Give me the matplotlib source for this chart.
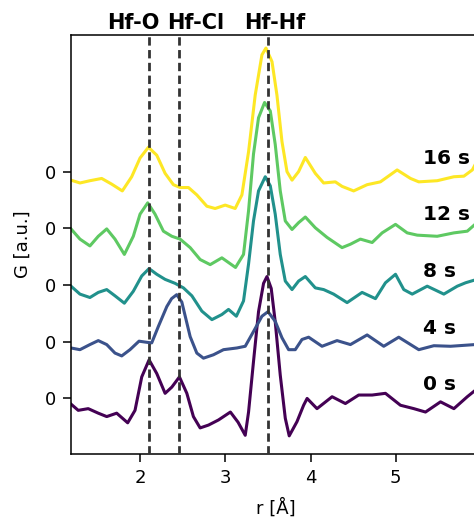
import matplotlib.pyplot as plt

# PDF curves, r in Angstrom, G without the vertical offset
r_0s = [1.19, 1.275, 1.392, 1.51, 1.609, 1.726, 1.855, 1.941, 2.02, 2.106, 2.196, 2.294, 2.373,
        2.462, 2.549, 2.626, 2.705, 2.803, 2.92, 3.06, 3.15, 3.234, 3.273, 3.331, 3.39, 3.449,
        3.489, 3.539, 3.586, 3.645, 3.704, 3.75, 3.841, 3.919, 3.96, 4.076, 4.253, 4.409, 4.565,
        4.723, 4.879, 5.055, 5.212, 5.349, 5.525, 5.682, 5.839, 5.93]
g_0s = [-0.10, -0.21, -0.18, -0.26, -0.32, -0.26, -0.43, -0.21, 0.38, 0.68, 0.44, 0.09, 0.20,
        0.38, 0.09, -0.32, -0.52, -0.47, -0.38, -0.24, -0.42, -0.65, -0.24, 0.65, 1.53, 2.03,
        2.15, 1.94, 1.35, 0.41, -0.35, -0.66, -0.41, -0.12, 0.0, -0.18, 0.03, -0.09, 0.06,
        0.06, 0.09, -0.12, -0.18, -0.24, -0.06, -0.18, 0.03, 0.14]

r_4s = [1.19, 1.295, 1.412, 1.51, 1.609, 1.706, 1.785, 1.882, 1.988, 2.079, 2.137, 2.215, 2.314,
        2.37, 2.43, 2.49, 2.588, 2.666, 2.744, 2.861, 2.979, 3.136, 3.234, 3.331, 3.43, 3.501,
        3.586, 3.665, 3.743, 3.821, 3.9, 3.978, 4.135, 4.311, 4.468, 4.664, 4.859, 5.035, 5.27,
        5.447, 5.643, 5.93]
g_4s = [-0.11, -0.14, -0.05, 0.02, -0.05, -0.20, -0.25, -0.14, 0.01, -0.01, -0.02, 0.27, 0.62,
        0.76, 0.83, 0.70, 0.09, -0.20, -0.29, -0.23, -0.14, -0.11, -0.08, 0.18, 0.45, 0.53,
        0.36, 0.07, -0.14, -0.14, 0.04, 0.08, -0.08, 0.02, -0.05, 0.12, -0.08, 0.08, -0.14,
        -0.07, -0.08, -0.05]

r_8s = [1.19, 1.295, 1.412, 1.51, 1.609, 1.706, 1.816, 1.921, 2.02, 2.106, 2.196, 2.294, 2.411,
        2.509, 2.608, 2.725, 2.843, 2.96, 3.038, 3.13, 3.214, 3.273, 3.331, 3.39, 3.469, 3.528,
        3.586, 3.645, 3.704, 3.783, 3.86, 3.939, 4.056, 4.154, 4.271, 4.429, 4.605, 4.762, 4.879,
        4.997, 5.094, 5.193, 5.369, 5.564, 5.722, 5.819, 5.93]
g_8s = [-0.02, -0.16, -0.22, -0.13, -0.08, -0.19, -0.32, -0.11, 0.16, 0.29, 0.19, 0.10, 0.03,
        -0.05, -0.19, -0.46, -0.61, -0.52, -0.43, -0.55, -0.28, 0.37, 1.13, 1.66, 1.91, 1.75,
        1.25, 0.54, 0.07, -0.08, 0.07, 0.15, -0.05, -0.08, -0.16, -0.31, -0.13, -0.24, 0.04,
        0.19, -0.08, -0.16, -0.02, -0.16, -0.02, 0.04, 0.09]

r_12s = [1.19, 1.295, 1.412, 1.51, 1.609, 1.706, 1.816, 1.921, 2.0, 2.09, 2.176, 2.274, 2.373,
         2.47, 2.588, 2.705, 2.823, 2.96, 3.12, 3.214, 3.273, 3.331, 3.39, 3.461, 3.528, 3.586,
         3.645, 3.704, 3.783, 3.86, 3.939, 4.056, 4.194, 4.37, 4.468, 4.585, 4.723, 4.84, 4.997,
         5.134, 5.252, 5.486, 5.682, 5.839, 5.93]
g_12s = [-0.01, -0.19, -0.31, -0.14, -0.01, -0.19, -0.46, -0.14, 0.25, 0.45, 0.25, -0.05, -0.14,
         -0.19, -0.34, -0.55, -0.64, -0.52, -0.69, -0.46, 0.31, 1.31, 1.95, 2.22, 2.07, 1.48,
         0.66, 0.13, -0.02, 0.10, 0.20, 0.01, -0.16, -0.34, -0.28, -0.19, -0.25, -0.08, 0.07,
         -0.08, -0.12, -0.14, -0.08, -0.05, 0.07]

r_16s = [1.19, 1.295, 1.412, 1.55, 1.667, 1.792, 1.902, 2.0, 2.098, 2.196, 2.294, 2.391, 2.47,
         2.568, 2.666, 2.784, 2.881, 2.999, 3.116, 3.195, 3.273, 3.351, 3.43, 3.477, 3.548, 3.606,
         3.665, 3.724, 3.783, 3.86, 3.939, 4.056, 4.154, 4.291, 4.37, 4.506, 4.664, 4.82, 5.016,
         5.173, 5.27, 5.486, 5.682, 5.799, 5.898, 5.93]
g_16s = [-0.15, -0.20, -0.16, -0.12, -0.22, -0.34, -0.09, 0.24, 0.43, 0.29, -0.03, -0.23, -0.28,
         -0.28, -0.41, -0.61, -0.65, -0.59, -0.65, -0.41, 0.35, 1.35, 2.06, 2.18, 1.94, 1.35,
         0.53, 0.0, -0.15, 0.0, 0.25, -0.03, -0.20, -0.18, -0.26, -0.34, -0.23, -0.18, 0.03,
         -0.12, -0.18, -0.16, -0.09, -0.08, 0.03, 0.12]

curves = [(r_0s, g_0s), (r_4s, g_4s), (r_8s, g_8s), (r_12s, g_12s), (r_16s, g_16s)]
times = ['0 s', '4 s', '8 s', '12 s', '16 s']
colors = ['#440154', '#3b528b', '#21918c', '#5ec962', '#fde725']

bond_names = ['Hf-O', 'Hf-Cl', 'Hf-Hf']
bond_r = [2.11, 2.46, 3.50]
bond_label_r = [1.92, 2.65, 3.58]

fig = plt.figure(figsize=(4.74, 5.21), dpi=100)
ax = fig.add_axes([71 / 474, 67 / 521, 410 / 474, 419 / 521])

for i, (r, g) in enumerate(curves):
    ax.plot(r, [v + i for v in g], color=colors[i], lw=2.2, solid_joinstyle='round')
    ax.text(5.32, i + 0.14, times[i], fontsize=14.5, fontweight='bold', va='baseline', ha='left')

for name, rb, rl in zip(bond_names, bond_r, bond_label_r):
    ax.axvline(rb, color='0.2', lw=2, linestyle=(0, (3, 1.6)), zorder=5)
    ax.text(rl, 1.005, name, transform=ax.get_xaxis_transform(), ha='center', va='bottom',
            fontsize=15, fontweight='bold')

ax.set_xlim(1.19, 6.0)
ax.set_ylim(-0.98, 6.41)
ax.set_xticks([2, 3, 4, 5])
ax.set_yticks(range(len(times)))
ax.set_yticklabels(['0'] * len(times))
ax.tick_params(labelsize=13, length=6, width=1.1, pad=5)
for s in ax.spines.values():
    s.set_linewidth(1.1)
ax.set_xlabel('r [Å]', fontsize=13)
ax.set_ylabel('G [a.u.]', fontsize=13)
ax.xaxis.set_label_coords(0.5, -0.105)
ax.yaxis.set_label_coords(-0.095, 0.5)

fig.savefig('out.png', dpi=100)
